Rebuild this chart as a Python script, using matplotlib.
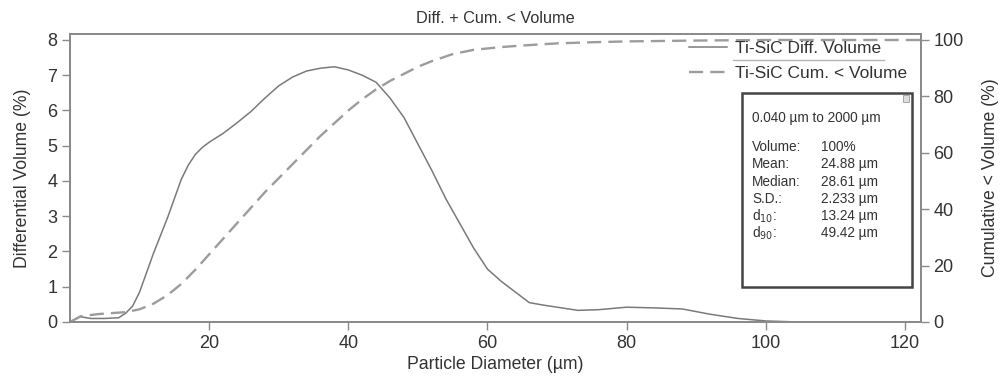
import matplotlib.pyplot as plt
from matplotlib.patches import Rectangle
from matplotlib.lines import Line2D

plt.rcParams['font.family'] = ['Liberation Sans', 'DejaVu Sans']

# differential volume (%) vs particle diameter (um)
diff_x = [0, 1.5, 3, 5, 7, 8, 9, 10, 11, 12, 13, 14, 15, 16, 17, 18, 19, 20, 22, 24, 26, 28,
          30, 32, 34, 36, 38, 40, 42, 44, 46, 48, 50, 52, 54, 56, 58, 60, 62, 64, 66, 68, 70,
          73, 76, 80, 84, 88, 92, 96, 100, 104.7]
diff_y = [0, 0.15, 0.1, 0.1, 0.12, 0.25, 0.45, 0.85, 1.4, 1.95, 2.45, 2.95, 3.5, 4.05, 4.45,
          4.75, 4.95, 5.1, 5.35, 5.65, 5.97, 6.35, 6.7, 6.95, 7.12, 7.2, 7.24, 7.15, 7.0, 6.8,
          6.35, 5.8, 5.05, 4.3, 3.5, 2.8, 2.1, 1.5, 1.15, 0.85, 0.55, 0.48, 0.42, 0.33, 0.35,
          0.42, 0.4, 0.37, 0.22, 0.1, 0.03, 0.0]

# cumulative < volume (%)
cum_x = [0, 1.5, 4, 8, 10, 12, 14, 16, 18, 20, 22, 24, 26, 28, 30, 32, 34, 36, 38, 40, 42, 44,
         46, 48, 50, 52, 55, 58, 62, 66, 70, 75, 80, 90, 100, 122.3]
cum_y = [0, 2, 2.8, 3.5, 4.5, 6.5, 9.5, 13.5, 18.5, 24, 29.5, 35, 40.5, 46, 51, 56, 61, 66,
         70.5, 75, 79, 82.5, 85.5, 88, 90.5, 92.5, 95, 96.5, 97.5, 98.2, 98.8, 99.2, 99.5,
         99.8, 100, 100]

stat_names = ["Volume:", "Mean:", "Median:", "S.D.:", "d$_{10}$:", "d$_{90}$:"]
stat_values = ["100%", "24.88 µm", "28.61 µm", "2.233 µm", "13.24 µm", "49.42 µm"]

grey = "#8a8a8a"
txt = "#333333"

fig = plt.figure(figsize=(10.08, 3.78), dpi=100)
ax = fig.add_axes([70 / 1008, 56 / 378, 851 / 1008, 288 / 378])
ax2 = ax.twinx()

l1, = ax.plot(diff_x, diff_y, color="#7a7a7a", lw=1.1, label="Ti-SiC Diff. Volume")
l2, = ax2.plot(cum_x, cum_y, color="#9c9c9c", lw=1.7, dashes=(6, 3), label="Ti-SiC Cum. < Volume")

ax.set_xlim(0, 122.3)
ax.set_ylim(0, 8.17)
ax2.set_ylim(0, 8.17 / 8 * 100)
ax.set_xticks([20, 40, 60, 80, 100, 120])
ax.set_yticks(range(0, 9))
ax2.set_yticks([0, 20, 40, 60, 80, 100])

for a in (ax, ax2):
    for s in a.spines.values():
        s.set_color(grey)
        s.set_linewidth(1.3)
    a.tick_params(colors=grey, labelcolor=txt, labelsize=13, length=6, width=1, pad=3)

ax.set_title("Diff. + Cum. < Volume", fontsize=11.7, color=txt, pad=8)
ax.set_xlabel("Particle Diameter (µm)", fontsize=12.7, color=txt, labelpad=3)
ax.set_ylabel("Differential Volume (%)", fontsize=12.7, color=txt, labelpad=12)
ax2.set_ylabel("Cumulative < Volume (%)", fontsize=12.7, color=txt, labelpad=13)


def fx(px):
    return (px - 70) / 851


def fy(py):
    return (322 - py) / 288


leg = ax2.legend(handles=[l1, l2], loc="upper right", bbox_to_anchor=(fx(907), fy(41)),
                 frameon=False, fontsize=12.5, handlelength=2.2, handletextpad=0.45,
                 labelspacing=0.55, borderaxespad=0, borderpad=0)
for t in leg.get_texts():
    t.set_color(txt)
ax2.add_line(Line2D([fx(733), fx(884)], [fy(60), fy(60)], transform=ax2.transAxes,
                    color="#b5b5b5", lw=1))

# statistics box
bx0, bx1 = fx(742), fx(912)
by0, by1 = fy(287), fy(93)
ax2.add_patch(Rectangle((bx0, by0), bx1 - bx0, by1 - by0, transform=ax2.transAxes,
                        facecolor="white", edgecolor="#444444", lw=1.8, zorder=5))
ax2.add_patch(Rectangle((bx1 - 0.011, by1 - 0.03), 0.008, 0.022, transform=ax2.transAxes,
                        facecolor="#dddddd", edgecolor="#999999", lw=0.6, zorder=6))

ax2.text(fx(752), fy(118), "0.040 µm to 2000 µm", transform=ax2.transAxes, fontsize=9.8,
         color=txt, va="center", zorder=7)
for i, (n, v) in enumerate(zip(stat_names, stat_values)):
    y = fy(147 + i * 17.3)
    ax2.text(fx(752), y, n, transform=ax2.transAxes, fontsize=9.8, color=txt, va="center", zorder=7)
    ax2.text(fx(821), y, v, transform=ax2.transAxes, fontsize=9.8, color=txt, va="center", zorder=7)

fig.savefig("out.png", dpi=100)
